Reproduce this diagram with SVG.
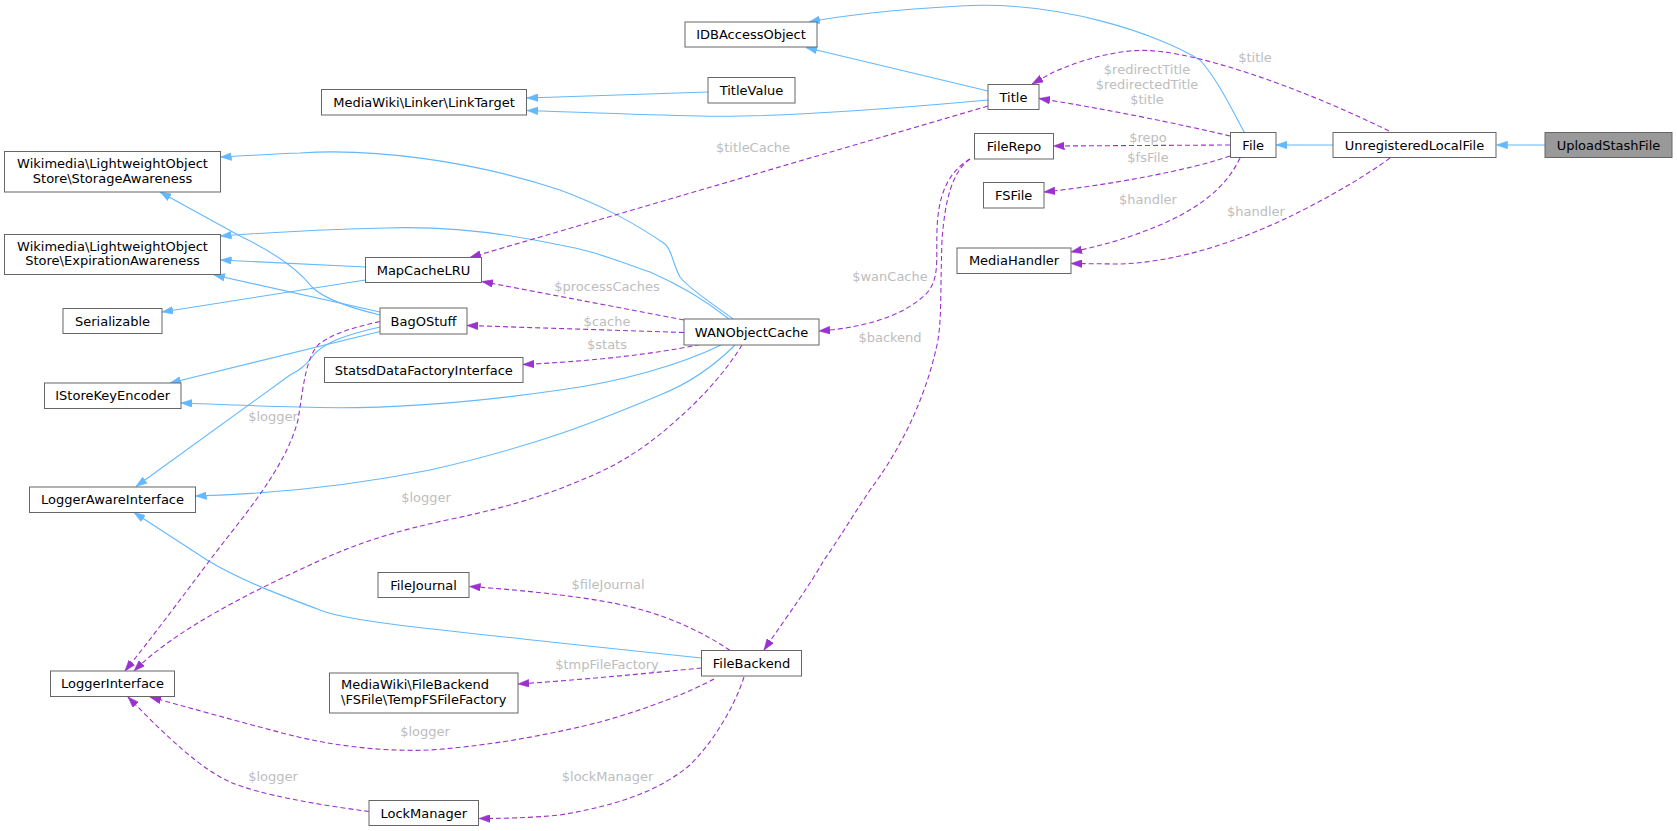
<svg xmlns="http://www.w3.org/2000/svg" width="1677" height="831" viewBox="0 0 1677 831">
<style>
.n rect{fill:#ffffff;stroke:#666666;stroke-width:1}
.n text{font-family:"DejaVu Sans","Liberation Sans",sans-serif;font-size:13px;fill:#000000;text-anchor:middle}
.n text.l{text-anchor:start}
.inh{fill:none;stroke:#63b8ff;stroke-width:1.1;marker-end:url(#ab)}
.use{fill:none;stroke:#9a32cd;stroke-width:1.1;stroke-dasharray:5,3;marker-end:url(#ap)}
.lbl{font-family:"DejaVu Sans","Liberation Sans",sans-serif;font-size:13px;fill:#bdbdbd;text-anchor:middle}
</style>
<defs>
<marker id="ab" viewBox="0 0 10 7" refX="10" refY="3.5" markerWidth="11" markerHeight="8" markerUnits="userSpaceOnUse" orient="auto"><path d="M0,0 L10,3.5 L0,7 z" fill="#63b8ff" stroke="#63b8ff" stroke-width="0.5"/></marker>
<marker id="ap" viewBox="0 0 10 7" refX="10" refY="3.5" markerWidth="11" markerHeight="8" markerUnits="userSpaceOnUse" orient="auto"><path d="M0,0 L10,3.5 L0,7 z" fill="#9a32cd" stroke="#9a32cd" stroke-width="0.5"/></marker>
</defs>
<rect x="0" y="0" width="1677" height="831" fill="#ffffff"/>
<g id="edges">
<path class="inh" d="M1333,145 L1276,145"/>
<path class="inh" d="M1545,145 L1496.5,145"/>
<path class="inh" d="M1244.5,132.5 C1232,110 1218,80 1200,60 C1160,35 1060,0 960,6 C890,10 845,15 809,22"/>
<path class="inh" d="M988,91 L806,47.5"/>
<path class="inh" d="M708,92 L527,98"/>
<path class="inh" d="M988,100 C900,108 780,118 700,116 C640,115 575,112 527,110.5"/>
<path class="inh" d="M365.5,267 L220.5,260"/>
<path class="inh" d="M365.5,280 L162,312"/>
<path class="inh" d="M733,319 C715,305 690,290 680,277 C672,262 672,250 665,244 C630,220 600,205 560,190 C470,160 370,148 300,153 C270,154 245,156 220.5,157"/>
<path class="inh" d="M729,319 C705,300 680,285 650,272 C610,258 590,250 560,245 C500,232 440,226 385,228 C310,230 260,233 220.5,236"/>
<path class="inh" d="M380,315 C355,309 325,300 312,287 C300,272 280,255 240,236 L160,192"/>
<path class="inh" d="M380,312 L214,275"/>
<path class="inh" d="M380,331.5 L170,383"/>
<path class="inh" d="M380,327 C345,335 322,343 312,357 C305,366 300,370 290,375 L136,486.5"/>
<path class="inh" d="M721,345 C680,365 620,382 560,390 C470,403 380,410 300,407 C250,406 210,404 181,403"/>
<path class="inh" d="M735,345 C710,370 685,385 660,395 C600,420 540,445 430,470 C350,486 270,494 195.5,496"/>
<path class="inh" d="M701.5,658 L560,643 C450,631 350,622 320,610 C280,595 240,580 207,560 L134,512.5"/>

<path class="use" d="M1389,131 C1330,102 1260,74 1200,59 C1170,52 1150,49 1130,51 C1100,54 1070,64 1050,74 L1032,84"/>
<text class="lbl" x="1255" y="61.5">$title</text>
<path class="use" d="M1230,136 C1180,124 1100,108 1039,98.5"/>
<text class="lbl" x="1147" y="74">$redirectTitle</text>
<text class="lbl" x="1147" y="89">$redirectedTitle</text>
<text class="lbl" x="1147" y="104">$title</text>
<path class="use" d="M1230,145 L1053.5,146"/>
<text class="lbl" x="1148" y="142">$repo</text>
<path class="use" d="M1230,156 C1190,170 1110,185 1044,192"/>
<text class="lbl" x="1148" y="162">$fsFile</text>
<path class="use" d="M1240,158 C1225,190 1195,210 1160,225 C1130,238 1100,246 1071,252"/>
<text class="lbl" x="1148" y="204">$handler</text>
<path class="use" d="M1390,158 C1360,180 1320,202 1287,218 C1240,240 1180,262 1120,264 L1071,263.5"/>
<text class="lbl" x="1256" y="216">$handler</text>
<path class="use" d="M988,106 L470,257.5"/>
<text class="lbl" x="753" y="152">$titleCache</text>
<path class="use" d="M684,320 L482,281.5"/>
<text class="lbl" x="607" y="290.5">$processCaches</text>
<path class="use" d="M684,332.5 L467,325.5"/>
<text class="lbl" x="607" y="326">$cache</text>
<path class="use" d="M700,344.5 C650,355 580,362 523,364.5"/>
<text class="lbl" x="607" y="348.5">$stats</text>
<path class="use" d="M970,159 C948,172 938,195 937,230 C936,262 940,280 925,295 C900,318 860,328 819,331"/>
<text class="lbl" x="890" y="281">$wanCache</text>
<path class="use" d="M970,159 C952,172 945,200 942,240 C940,300 942,320 937,345 C925,400 900,450 870,490 C850,520 835,545 824,560 C810,585 790,612 764,650"/>
<text class="lbl" x="890" y="342">$backend</text>
<path class="use" d="M742,345 C728,368 705,395 680,417 C655,440 630,458 600,472 C560,490 520,505 447,520 C400,530 360,542 321,560 C250,592 175,630 134,671"/>
<text class="lbl" x="426" y="502">$logger</text>
<path class="use" d="M380,321.5 C350,328 330,335 318,345 C305,360 303,390 298,420 C285,470 240,520 210,560 C180,600 150,640 125,671"/>
<text class="lbl" x="273" y="421">$logger</text>
<path class="use" d="M730,650.5 C700,630 660,612 613,603 C570,595 520,590 469.5,586.5"/>
<text class="lbl" x="608" y="589">$fileJournal</text>
<path class="use" d="M701.5,668 C650,673 580,680 518,684"/>
<text class="lbl" x="607" y="668.5">$tmpFileFactory</text>
<path class="use" d="M714,679 C690,692 650,708 600,722 C560,732 500,745 430,750 C380,752 330,745 290,735 C240,722 190,708 150,697"/>
<text class="lbl" x="425" y="736">$logger</text>
<path class="use" d="M744,677 C735,705 715,740 690,765 C660,790 620,805 560,815 C530,818 500,818.5 479,818.5"/>
<text class="lbl" x="607.5" y="781">$lockManager</text>
<path class="use" d="M369,811.5 C320,805 260,795 230,782 C200,768 170,740 128,697"/>
<text class="lbl" x="273" y="781">$logger</text>
</g>
<g id="UploadStashFile" class="n"><rect x="1545" y="132.5" width="127" height="25" style="fill:#999999"/><text x="1608.5" y="149.5">UploadStashFile</text></g>
<g id="UnregisteredLocalFile" class="n"><rect x="1333" y="132.5" width="163" height="25"/><text x="1414.5" y="149.5">UnregisteredLocalFile</text></g>
<g id="File" class="n"><rect x="1230.5" y="132.5" width="45.5" height="25"/><text x="1253.25" y="149.5">File</text></g>
<g id="IDBAccessObject" class="n"><rect x="685" y="22" width="132" height="25"/><text x="751" y="38.5">IDBAccessObject</text></g>
<g id="Title" class="n"><rect x="988" y="84.5" width="51" height="25"/><text x="1013.5" y="101.5">Title</text></g>
<g id="TitleValue" class="n"><rect x="708" y="77.5" width="87" height="25.5"/><text x="751.5" y="94.5">TitleValue</text></g>
<g id="LinkTarget" class="n"><rect x="321.5" y="89.5" width="205" height="25.5"/><text x="424" y="106.5">MediaWiki\Linker\LinkTarget</text></g>
<g id="FileRepo" class="n"><rect x="974.5" y="133.5" width="79" height="25.5"/><text x="1014" y="150.5">FileRepo</text></g>
<g id="FSFile" class="n"><rect x="983.5" y="182.5" width="60.5" height="25.5"/><text x="1013.75" y="199.5">FSFile</text></g>
<g id="MediaHandler" class="n"><rect x="957" y="248" width="114" height="25.5"/><text x="1014" y="265">MediaHandler</text></g>
<g id="StorageAwareness" class="n"><rect x="4.5" y="151.5" width="216" height="40.5"/><text x="112.5" y="168">Wikimedia\LightweightObject</text><text x="112.5" y="182.5">Store\StorageAwareness</text></g>
<g id="ExpirationAwareness" class="n"><rect x="4.5" y="234.5" width="216" height="40"/><text x="112.5" y="250.5">Wikimedia\LightweightObject</text><text x="112.5" y="265">Store\ExpirationAwareness</text></g>
<g id="MapCacheLRU" class="n"><rect x="365.5" y="257.5" width="116" height="25"/><text x="423.5" y="274.5">MapCacheLRU</text></g>
<g id="Serializable" class="n"><rect x="63" y="308.5" width="99" height="25"/><text x="112.5" y="325.5">Serializable</text></g>
<g id="BagOStuff" class="n"><rect x="380" y="308" width="87" height="26"/><text x="423.5" y="325.5">BagOStuff</text></g>
<g id="StatsdDataFactoryInterface" class="n"><rect x="324.5" y="357.5" width="198.5" height="25"/><text x="423.75" y="374.5">StatsdDataFactoryInterface</text></g>
<g id="WANObjectCache" class="n"><rect x="684" y="319" width="135" height="26"/><text x="751.5" y="336.5">WANObjectCache</text></g>
<g id="IStoreKeyEncoder" class="n"><rect x="44.5" y="383" width="136.5" height="25.5"/><text x="112.75" y="400">IStoreKeyEncoder</text></g>
<g id="LoggerAwareInterface" class="n"><rect x="29.5" y="487" width="166" height="25.5"/><text x="112.5" y="504">LoggerAwareInterface</text></g>
<g id="LoggerInterface" class="n"><rect x="50.5" y="671" width="124" height="25.5"/><text x="112.5" y="688">LoggerInterface</text></g>
<g id="FileJournal" class="n"><rect x="378" y="572.5" width="91" height="25"/><text x="423.5" y="589.5">FileJournal</text></g>
<g id="TempFSFileFactory" class="n"><rect x="329.5" y="673" width="188.5" height="40"/><text class="l" x="341" y="689">MediaWiki\FileBackend</text><text class="l" x="341" y="704">\FSFile\TempFSFileFactory</text></g>
<g id="LockManager" class="n"><rect x="369" y="800.5" width="109.5" height="25"/><text x="423.75" y="817.5">LockManager</text></g>
<g id="FileBackend" class="n"><rect x="701.5" y="650.5" width="100" height="25.5"/><text x="751.5" y="667.5">FileBackend</text></g>
</svg>
